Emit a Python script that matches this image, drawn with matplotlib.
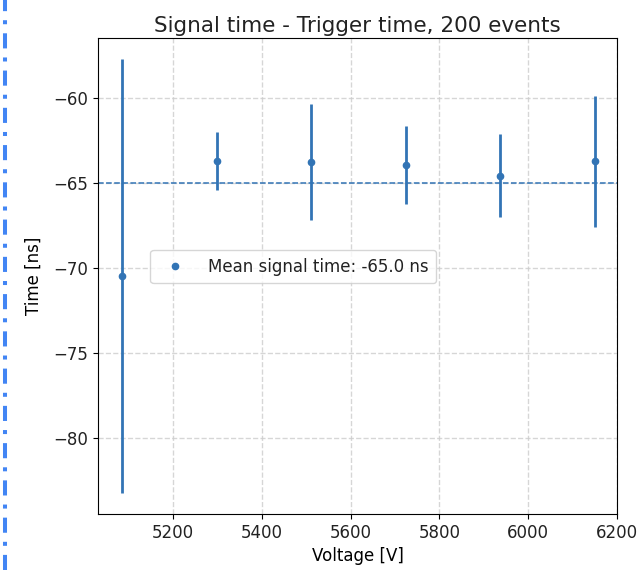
import numpy as np
import matplotlib
matplotlib.use("Agg")
import matplotlib.pyplot as plt
from matplotlib.lines import Line2D

# data
voltages = np.array([5085, 5298, 5511, 5724, 5937, 6150])  # V
mean_times = np.array([-70.5, -63.75, -63.8, -63.95, -64.6, -63.75])  # ns
time_errs = np.array([12.75, 1.7, 3.4, 2.3, 2.45, 3.85])  # ns
overall_mean = -65.0
n_events = 200

color = "#3274b5"
plt.rcParams["text.color"] = "#222222"

fig = plt.figure(figsize=(6.42, 5.70), dpi=100)
ax = fig.add_axes([0.1526, 0.0982, 0.8084, 0.8351])

ax.errorbar(voltages, mean_times, yerr=time_errs, fmt=".", color=color,
            markersize=9, elinewidth=2, capsize=0, zorder=3)
ax.axhline(overall_mean, color=color, linestyle="--", linewidth=1.1, zorder=2)

handle = Line2D([], [], linestyle="none", marker=".", markersize=9, color=color)
ax.legend([handle], [f"Mean signal time: {overall_mean:.1f} ns"],
          loc="center left", bbox_to_anchor=(0.085, 0.52), fontsize=12,
          handletextpad=1.0, borderpad=0.45)

ax.set_xlim(5031, 6200)
ax.set_ylim(-84.5, -56.5)
ax.set_xticks([5200, 5400, 5600, 5800, 6000, 6200])
ax.set_yticks([-60, -65, -70, -75, -80])
ax.grid(True, linestyle="--", color="#cccccc", alpha=0.8, linewidth=1)
ax.tick_params(labelsize=12, labelcolor="#222222")
ax.set_xlabel("Voltage [V]", fontsize=12)
ax.set_ylabel("Time [ns]", fontsize=12, labelpad=8)
ax.set_title(f"Signal time - Trigger time, {n_events} events", fontsize=15.5, pad=4)

# dash-dot border line at the left edge of the screenshot
fig.add_artist(Line2D([0.0078, 0.0078], [0.0, 1.0], transform=fig.transFigure,
                      color="#4285f4", linewidth=2.9, dashes=(3.75, 2.25, 1.0, 2.25)))

fig.savefig("out.png", dpi=100)
